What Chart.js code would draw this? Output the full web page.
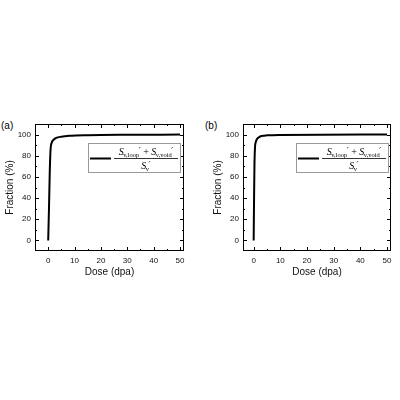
<!DOCTYPE html>
<html>
<head>
<meta charset="utf-8">
<script src="https://cdn.jsdelivr.net/npm/chart.js@4.4.1/dist/chart.umd.min.js"></script>
<style>
  body { margin: 0; background: #fff; width: 400px; height: 400px; overflow: hidden; position: relative; }
  canvas { position: absolute; top: 100px; }
  .panel { position: absolute; top: 120px; font: 10px "Liberation Sans", Arial, sans-serif; color: #000; }
</style>
</head>
<body>
<div class="panel" style="left:1px">(a)</div>
<div class="panel" style="left:205px">(b)</div>
<canvas id="chartA" width="200" height="180" style="left:0px"></canvas>
<canvas id="chartB" width="200" height="180" style="left:208px"></canvas>
<script>
// dose (dpa) vs fraction (%)
var doseA = [0, 0.3, 0.6, 0.9, 1.3, 2, 3, 5, 8, 15, 30, 50];
var fracA = [0, 30, 65, 86, 92, 95, 96.8, 98, 98.8, 99.4, 99.8, 100];
var doseB = [0, 0.15, 0.3, 0.5, 0.8, 1.2, 2, 3, 5, 10, 50];
var fracB = [0, 40, 72, 88, 93, 95.5, 97.5, 98.6, 99.3, 99.7, 100];

var xTicks = [0, 10, 20, 30, 40, 50];
var yTicks = [0, 20, 40, 60, 80, 100];

var tickFont = { family: '"Liberation Sans", Arial, sans-serif', size: 8 };
var titleFont = { family: '"Liberation Sans", Arial, sans-serif', size: 10 };

// box around the plot + inward major/minor ticks on all four sides
var frameTicks = {
  id: 'frameTicks',
  afterDatasetsDraw(chart) {
    var ctx = chart.ctx, a = chart.chartArea;
    var x = chart.scales.x, y = chart.scales.y;
    ctx.save();
    ctx.strokeStyle = '#000';
    ctx.lineWidth = 1;
    ctx.strokeRect(Math.round(a.left) + 0.5, Math.round(a.top) + 0.5,
      Math.round(a.right - a.left) - 1, Math.round(a.bottom - a.top) - 1);
    ctx.beginPath();
    xTicks.forEach(function (v) {
      var p = Math.round(x.getPixelForValue(v)) + 0.5;
      ctx.moveTo(p, a.bottom); ctx.lineTo(p, a.bottom - 4);
      ctx.moveTo(p, a.top); ctx.lineTo(p, a.top + 4);
      var m = Math.round(x.getPixelForValue(v + 5)) + 0.5;
      if (v + 5 < x.max) {
        ctx.moveTo(m, a.bottom); ctx.lineTo(m, a.bottom - 2);
        ctx.moveTo(m, a.top); ctx.lineTo(m, a.top + 2);
      }
    });
    yTicks.forEach(function (v) {
      var p = Math.round(y.getPixelForValue(v)) + 0.5;
      ctx.moveTo(a.left, p); ctx.lineTo(a.left + 4, p);
      ctx.moveTo(a.right, p); ctx.lineTo(a.right - 4, p);
      var m = Math.round(y.getPixelForValue(v + 10)) + 0.5;
      if (v + 10 < y.max) {
        ctx.moveTo(a.left, m); ctx.lineTo(a.left + 2, m);
        ctx.moveTo(a.right, m); ctx.lineTo(a.right - 2, m);
      }
    });
    ctx.stroke();
    ctx.restore();
  }
};

// S term with subscript and prime, returns its width
function sTerm(ctx, x, y, sub, draw) {
  ctx.font = 'italic 10px "Liberation Serif", serif';
  var w = ctx.measureText('S').width;
  if (draw) ctx.fillText('S', x, y);
  ctx.font = '6.5px "Liberation Serif", serif';
  var sw = ctx.measureText(sub).width;
  if (draw) ctx.fillText(sub, x + w - 0.5, y + 2);
  ctx.font = 'italic 9px "DejaVu Serif", serif';
  var pw = ctx.measureText('\u2032').width;
  if (draw) ctx.fillText('\u2032', x + w + sw - 1, y - 1);
  return w + sw + pw - 1;
}

function numerator(ctx, x, y, draw) {
  var w = sTerm(ctx, x, y, 'v,loop', draw);
  ctx.font = '10px "Liberation Serif", serif';
  if (draw) ctx.fillText(' + ', x + w, y);
  w += ctx.measureText(' + ').width;
  w += sTerm(ctx, x + w, y, 'v,void', draw);
  return w;
}

// legend box with a fraction label
var fracLegend = {
  id: 'fracLegend',
  afterDraw(chart) {
    var ctx = chart.ctx, a = chart.chartArea;
    var bx = a.left + 53, by = a.top + 19, bw = 92, bh = 29;
    ctx.save();
    ctx.strokeStyle = '#999';
    ctx.lineWidth = 1;
    ctx.fillStyle = '#fff';
    ctx.fillRect(bx, by, bw, bh);
    ctx.strokeRect(bx + 0.5, by + 0.5, bw, bh);
    var my = by + bh / 2 + 1;
    ctx.strokeStyle = '#000';
    ctx.lineWidth = 2;
    ctx.beginPath();
    ctx.moveTo(bx + 2, my); ctx.lineTo(bx + 23, my);
    ctx.stroke();
    // fraction bar
    var fx0 = bx + 26, fx1 = bx + bw - 2;
    ctx.lineWidth = 0.8;
    ctx.beginPath();
    ctx.moveTo(fx0, my); ctx.lineTo(fx1, my);
    ctx.stroke();
    ctx.fillStyle = '#000';
    ctx.textBaseline = 'alphabetic';
    var nw = numerator(ctx, 0, 0, false);
    numerator(ctx, (fx0 + fx1) / 2 - nw / 2, my - 3.5, true);
    var dw = sTerm(ctx, 0, 0, 'v', false);
    sTerm(ctx, (fx0 + fx1) / 2 - dw / 2, my + 10, 'v', true);
    ctx.restore();
  }
};

function makeChart(id, dose, frac, xMin, padRight) {
  var pts = dose.map(function (d, i) { return { x: d, y: frac[i] }; });
  return new Chart(document.getElementById(id).getContext('2d'), {
    type: 'line',
    data: {
      datasets: [{
        data: pts,
        borderColor: '#000',
        borderWidth: 2,
        pointRadius: 0,
        cubicInterpolationMode: 'monotone',
        fill: false
      }]
    },
    options: {
      responsive: false,
      animation: false,
      layout: { padding: { top: 24, right: padRight, left: 0, bottom: 0 } },
      plugins: { legend: { display: false }, tooltip: { enabled: false } },
      scales: {
        x: {
          type: 'linear',
          min: xMin, max: 51.5,
          afterBuildTicks: function (s) { s.ticks = xTicks.map(function (v) { return { value: v }; }); },
          afterFit: function (s) { s.height = 29; },
          grid: { display: false, drawTicks: false },
          border: { display: false },
          ticks: { font: tickFont, color: '#111', padding: 5, maxRotation: 0 },
          title: { display: true, text: 'Dose (dpa)', font: titleFont, color: '#111', padding: { top: 0, bottom: 2 } }
        },
        y: {
          min: -10, max: 110,
          afterBuildTicks: function (s) { s.ticks = yTicks.map(function (v) { return { value: v }; }); },
          afterFit: function (s) { s.width = 35; },
          grid: { display: false, drawTicks: false },
          border: { display: false },
          ticks: { font: tickFont, color: '#111', padding: 4 },
          title: { display: true, text: 'Fraction (%)', font: titleFont, color: '#111', padding: { top: 4, bottom: 0 } }
        }
      }
    },
    plugins: [frameTicks, fracLegend]
  });
}

makeChart('chartA', doseA, fracA, -5, 16);
makeChart('chartB', doseB, fracB, -4, 17);
</script>
</body>
</html>
